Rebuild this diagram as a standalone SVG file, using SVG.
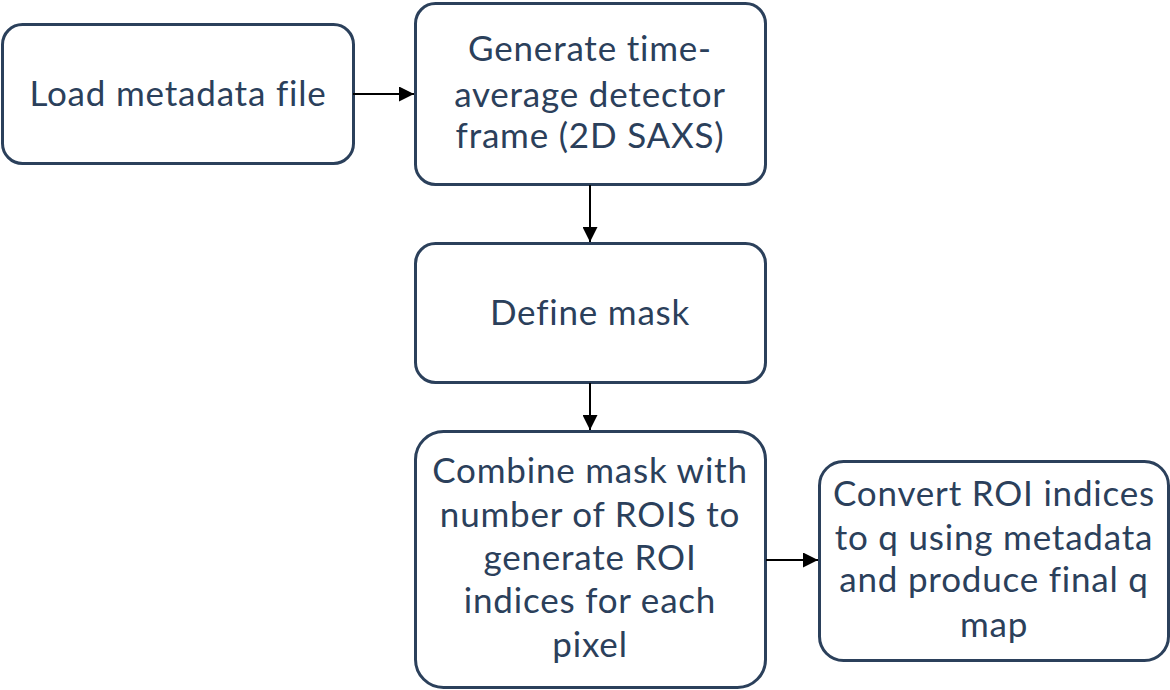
<svg xmlns="http://www.w3.org/2000/svg" width="1170" height="690" viewBox="0 0 1170 690">
<defs>
<marker id="arr" markerWidth="15" markerHeight="15" refX="15" refY="7.5" orient="auto" markerUnits="userSpaceOnUse" viewBox="0 0 15 15">
<path d="M0,0 L15,7.5 L0,15 Z" fill="#000"/>
</marker>
<style>
.box{fill:#fff;stroke:#2b405b;stroke-width:3}
.t{font-family:Lato,"Noto Sans",sans-serif;font-size:35px;letter-spacing:0.8px;fill:#2b405b;text-anchor:middle}
.c{stroke:#000;stroke-width:2;fill:none;marker-end:url(#arr)}
</style>
</defs>
<rect width="1170" height="690" fill="#fff"/>
<g id="n1"><rect class="box" x="2.5" y="24.5" width="351" height="139" rx="20"/>
<text class="t" x="178" y="106">Load metadata file</text></g>
<g id="n2"><rect class="box" x="415.5" y="3.5" width="350" height="181" rx="20"/>
<text class="t" x="590" y="61">Generate time-</text>
<text class="t" x="590" y="107">average detector</text>
<text class="t" x="590" y="148">frame (2D SAXS)</text></g>
<g id="n3"><rect class="box" x="415.5" y="243.5" width="350" height="139" rx="20"/>
<text class="t" x="590" y="325">Define mask</text></g>
<g id="n4"><rect class="box" x="415.5" y="431.5" width="350" height="256" rx="28"/>
<text class="t" x="590" y="483">Combine mask with</text>
<text class="t" x="590" y="527">number of ROIS to</text>
<text class="t" x="590" y="570">generate ROI</text>
<text class="t" x="590" y="613">indices for each</text>
<text class="t" x="590" y="657">pixel</text></g>
<g id="n5"><rect class="box" x="819.5" y="461.5" width="349" height="199" rx="24"/>
<text class="t" x="994" y="506">Convert ROI indices</text>
<text class="t" x="994" y="550">to q using metadata</text>
<text class="t" x="994" y="592">and produce final q</text>
<text class="t" x="994" y="637">map</text></g>
<g id="connectors">
<line class="c" x1="353" y1="94" x2="414" y2="94"/>
<line class="c" x1="590" y1="185" x2="590" y2="242"/>
<line class="c" x1="590" y1="383" x2="590" y2="430"/>
<line class="c" x1="766" y1="560" x2="818" y2="560"/>
</g>
</svg>
